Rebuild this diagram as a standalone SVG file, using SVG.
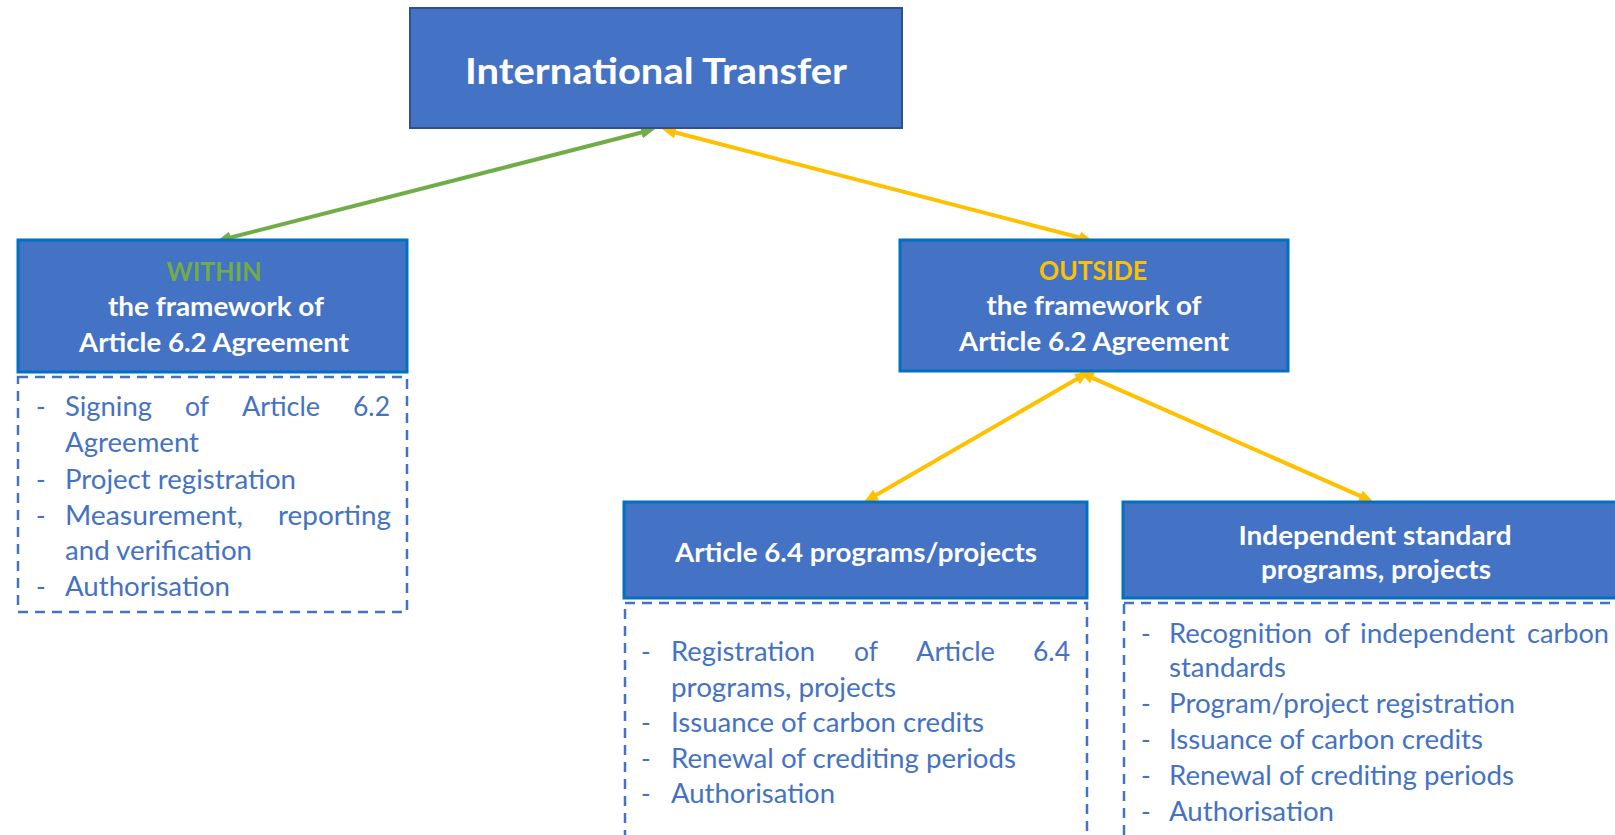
<svg xmlns="http://www.w3.org/2000/svg" width="1615" height="835" viewBox="0 0 1615 835">
<style>
.box{fill:#4472C4;stroke:#0070C0;stroke-width:3}
.top{fill:#4472C4;stroke:#2F528F;stroke-width:2}
.dash{fill:none;stroke:#4472C4;stroke-width:2.5;stroke-dasharray:10 7}
.t{font-family:Lato,"Liberation Sans",sans-serif;font-weight:bold;font-size:26px;fill:#FFFFFF;text-anchor:middle}
.big{font-size:37px}
.g{fill:#70AD47}
.y{fill:#FFC000}
.l{font-family:Lato,"Liberation Sans",sans-serif;font-size:26px;fill:#4472C4}
.cg{stroke:#70AD47;stroke-width:4;fill:none}
.cy{stroke:#FFC000;stroke-width:4;fill:none}
</style>
<defs>
<marker id="mg" viewBox="0 0 14 12" refX="4" refY="6" markerWidth="14" markerHeight="12" markerUnits="userSpaceOnUse" orient="auto-start-reverse"><path d="M0,0 L14,6 L0,12 z" fill="#70AD47"/></marker>
<marker id="my" viewBox="0 0 14 12" refX="4" refY="6" markerWidth="14" markerHeight="12" markerUnits="userSpaceOnUse" orient="auto-start-reverse"><path d="M0,0 L14,6 L0,12 z" fill="#FFC000"/></marker>
</defs>
<rect width="1615" height="835" fill="#FFFFFF"/>

<g id="connectors">
<line class="cg" x1="645.3" y1="131.5" x2="226.7" y2="238.5" marker-start="url(#mg)" marker-end="url(#mg)"/>
<line class="cy" x1="671.7" y1="131.5" x2="1083.3" y2="238.5" marker-start="url(#my)" marker-end="url(#my)"/>
<line class="cy" x1="1080.3" y1="377" x2="872.7" y2="497" marker-start="url(#my)" marker-end="url(#my)"/>
<line class="cy" x1="1089" y1="376.3" x2="1364" y2="497.7" marker-start="url(#my)" marker-end="url(#my)"/>
</g>

<g id="international-transfer">
<rect class="top" x="410" y="8" width="492" height="120"/>
<text class="t big" x="656" y="84" textLength="382" lengthAdjust="spacingAndGlyphs">International Transfer</text>
</g>

<g id="within">
<rect class="box" x="18" y="240" width="389" height="132"/>
<text class="t g" x="214" y="281" textLength="95" lengthAdjust="spacingAndGlyphs">WITHIN</text>
<text class="t" x="216" y="316" textLength="216" lengthAdjust="spacingAndGlyphs">the framework of</text>
<text class="t" x="214" y="352" textLength="270" lengthAdjust="spacingAndGlyphs">Article 6.2 Agreement</text>
</g>

<g id="within-list">
<rect class="dash" x="18" y="377" width="389" height="235"/>
<text class="l" x="36" y="416">-</text>
<text class="l" x="65" y="416" textLength="87" lengthAdjust="spacingAndGlyphs">Signing</text>
<text class="l" x="185" y="416" textLength="24" lengthAdjust="spacingAndGlyphs">of</text>
<text class="l" x="242" y="416" textLength="78" lengthAdjust="spacingAndGlyphs">Article</text>
<text class="l" x="353" y="416" textLength="37" lengthAdjust="spacingAndGlyphs">6.2</text>
<text class="l" x="65" y="452" textLength="134" lengthAdjust="spacingAndGlyphs">Agreement</text>
<text class="l" x="36" y="489">-</text>
<text class="l" x="65" y="489" textLength="231" lengthAdjust="spacingAndGlyphs">Project registration</text>
<text class="l" x="36" y="525">-</text>
<text class="l" x="65" y="525" textLength="178" lengthAdjust="spacingAndGlyphs">Measurement,</text>
<text class="l" x="278" y="525" textLength="113" lengthAdjust="spacingAndGlyphs">reporting</text>
<text class="l" x="65" y="560" textLength="187" lengthAdjust="spacingAndGlyphs">and verification</text>
<text class="l" x="36" y="596">-</text>
<text class="l" x="65" y="596" textLength="165" lengthAdjust="spacingAndGlyphs">Authorisation</text>
</g>

<g id="outside">
<rect class="box" x="900" y="240" width="388" height="131"/>
<text class="t y" x="1093" y="280" textLength="108" lengthAdjust="spacingAndGlyphs">OUTSIDE</text>
<text class="t" x="1094" y="315" textLength="215" lengthAdjust="spacingAndGlyphs">the framework of</text>
<text class="t" x="1094" y="351" textLength="270" lengthAdjust="spacingAndGlyphs">Article 6.2 Agreement</text>
</g>

<g id="article64">
<rect class="box" x="624" y="502" width="463" height="96"/>
<text class="t" x="856" y="562" textLength="362" lengthAdjust="spacingAndGlyphs">Article 6.4 programs/projects</text>
</g>

<g id="article64-list">
<rect class="dash" x="625" y="603" width="462" height="260"/>
<text class="l" x="641" y="661">-</text>
<text class="l" x="671" y="661" textLength="144" lengthAdjust="spacingAndGlyphs">Registration</text>
<text class="l" x="854" y="661" textLength="24" lengthAdjust="spacingAndGlyphs">of</text>
<text class="l" x="916" y="661" textLength="79" lengthAdjust="spacingAndGlyphs">Article</text>
<text class="l" x="1033" y="661" textLength="37" lengthAdjust="spacingAndGlyphs">6.4</text>
<text class="l" x="671" y="696.5" textLength="225" lengthAdjust="spacingAndGlyphs">programs, projects</text>
<text class="l" x="641" y="732">-</text>
<text class="l" x="671" y="732" textLength="313" lengthAdjust="spacingAndGlyphs">Issuance of carbon credits</text>
<text class="l" x="641" y="767.5">-</text>
<text class="l" x="671" y="767.5" textLength="345" lengthAdjust="spacingAndGlyphs">Renewal of crediting periods</text>
<text class="l" x="641" y="803">-</text>
<text class="l" x="671" y="803" textLength="164" lengthAdjust="spacingAndGlyphs">Authorisation</text>
</g>

<g id="independent">
<rect class="box" x="1123" y="502" width="504" height="96"/>
<text class="t" x="1375" y="545" textLength="273" lengthAdjust="spacingAndGlyphs">Independent standard</text>
<text class="t" x="1376" y="579" textLength="230" lengthAdjust="spacingAndGlyphs">programs, projects</text>
</g>

<g id="independent-list">
<rect class="dash" x="1124" y="603" width="502" height="260"/>
<text class="l" x="1141" y="643">-</text>
<text class="l" x="1169" y="643" textLength="143" lengthAdjust="spacingAndGlyphs">Recognition</text>
<text class="l" x="1324" y="643" textLength="26" lengthAdjust="spacingAndGlyphs">of</text>
<text class="l" x="1360" y="643" textLength="155" lengthAdjust="spacingAndGlyphs">independent</text>
<text class="l" x="1527" y="643" textLength="82" lengthAdjust="spacingAndGlyphs">carbon</text>
<text class="l" x="1169" y="677" textLength="117" lengthAdjust="spacingAndGlyphs">standards</text>
<text class="l" x="1141" y="713">-</text>
<text class="l" x="1169" y="713" textLength="346" lengthAdjust="spacingAndGlyphs">Program/project registration</text>
<text class="l" x="1141" y="749">-</text>
<text class="l" x="1169" y="749" textLength="314" lengthAdjust="spacingAndGlyphs">Issuance of carbon credits</text>
<text class="l" x="1141" y="785">-</text>
<text class="l" x="1169" y="785" textLength="345" lengthAdjust="spacingAndGlyphs">Renewal of crediting periods</text>
<text class="l" x="1141" y="821">-</text>
<text class="l" x="1169" y="821" textLength="165" lengthAdjust="spacingAndGlyphs">Authorisation</text>
</g>
</svg>
